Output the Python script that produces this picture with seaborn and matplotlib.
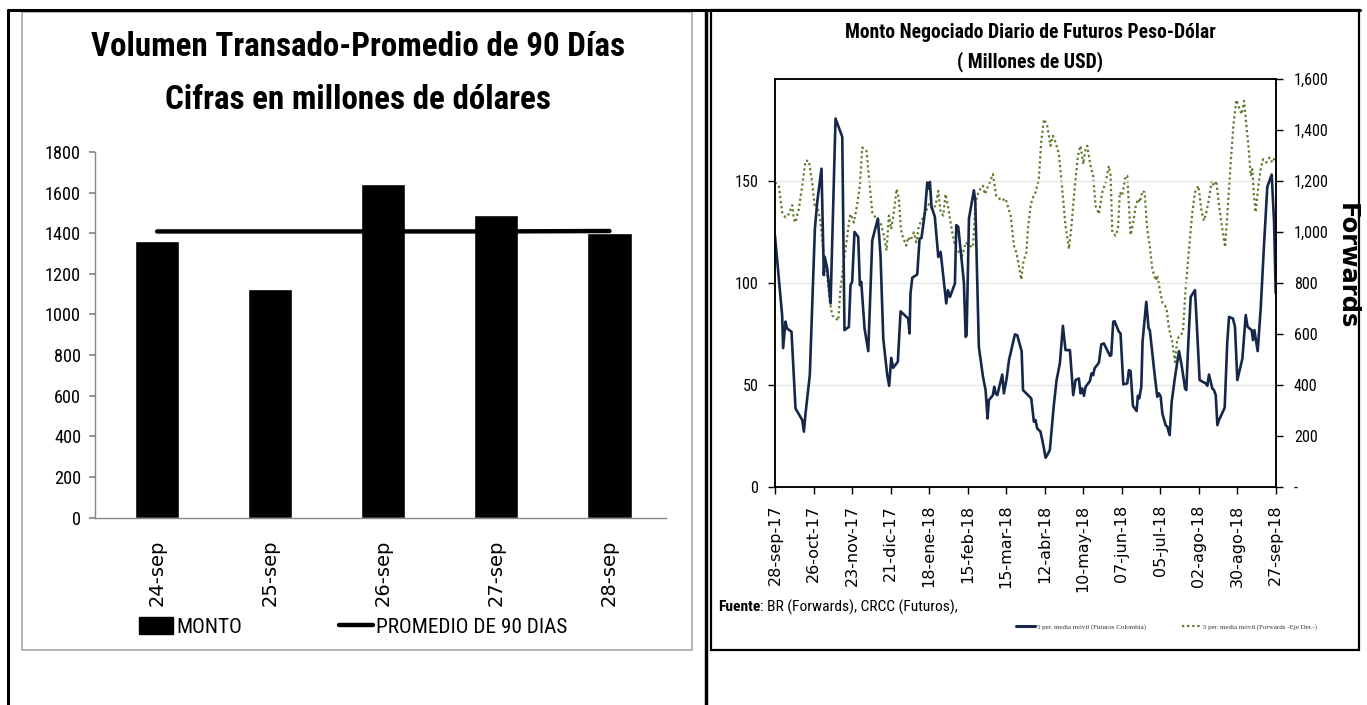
import numpy as np
import pandas as pd
import matplotlib
matplotlib.use("Agg")
import matplotlib.pyplot as plt
from matplotlib import font_manager
from matplotlib.font_manager import FontProperties
from matplotlib.lines import Line2D
from matplotlib.patches import Rectangle, Patch
import matplotlib.ticker as mticker
import seaborn as sns

# ---------------- data: left chart ----------------
categories = ["24-sep", "25-sep", "26-sep", "27-sep", "28-sep"]
monto = [1362, 1127, 1641, 1491, 1403]
promedio = [1409, 1409, 1409, 1409, 1411]
left_yticks = [0, 200, 400, 600, 800, 1000, 1200, 1400, 1600, 1800]

# ---------------- data: right chart ----------------
start_date = "2017-09-28"
fut_day = [0, 5.2, 5.9, 7.6, 8.8, 12, 14.9, 19.8, 21, 22.2, 25.3, 29, 30.7, 33.8, 35.5, 36.2, 38, 40.4,
           44, 48.9, 50.5, 53.7, 54.9, 56.1, 57.8, 60.5, 61.7, 62.7, 65.1, 67.8, 70.7, 74.8, 76.7, 78.7,
           81.6, 83, 84.5, 85.9, 89.3, 91.3, 96.8, 97.8, 98.5, 99.8, 103.4, 105.1, 106.5, 109, 110.7,
           111.9, 112.6, 113.8, 116.2, 118.7, 120.4, 124.5, 125.7, 127.2, 130.8, 131.8, 133.2, 137.3,
           138.6, 139.3, 141, 144.6, 145.6, 148.2, 151.2, 153.1, 154.5, 155.5, 158.4, 159.4, 160.4,
           161.6, 165.2, 166.4, 168.4, 170.1, 174.4, 176.1, 179.3, 180.3, 186.3, 188.2, 189.4, 190.6,
           193, 194.3, 195.5, 196.7, 197.9, 199.8, 202.7, 204.7, 207.1, 209.3, 211.2, 214.4, 216.8,
           218.5, 220.9, 222.1, 223.3, 224.6, 225.8, 228.9, 230.1, 231.3, 232.3, 235.5, 237.2, 239.1,
           243.5, 244.4, 245.9, 246.9, 250, 251.2, 253.2, 256.1, 257.3, 258.5, 260.2, 262.9, 263.8,
           264.8, 266.3, 267.2, 269.9, 271.6, 272.5, 275.5, 277.9, 279.1, 280.4, 281.6, 284, 285.2,
           286.9, 288.4, 290.8, 293.7, 295.6, 298.1, 299, 300.5, 302.2, 305.3, 306.3, 308.7, 313.1,
           314.3, 315.5, 317.9, 319.1, 320.4, 321.6, 322.8, 326.9, 328.8, 330.1, 332.9, 334.4, 336.1,
           339.8, 342.2, 343.6, 346.5, 347.5, 348.5, 350.9, 353.1, 355.5, 357.9, 361.1, 362.8, 364]
fut_val = [123, 84, 68, 81, 77.6, 76, 38.4, 32.7, 27, 36, 54.7, 126.6, 139.7, 156, 103.8, 112.7, 107, 89.9,
           180.6, 171.6, 76.8, 78.4, 98.9, 100.5, 125, 122.5, 98.9, 100.5, 77.6, 66.5, 120.9, 131.5, 113.6, 72.7,
           54.7, 49.5, 63.2, 58.3, 61.3, 86, 82.5, 75.2, 94.8, 102.5, 104.1, 121.7, 122, 134.8, 149.2,
           146.2, 149.5, 137.3, 132.4, 112.7, 115.2, 89.9, 96.4, 93.1, 99.7, 128.3, 127.5, 100.5,
           73.5, 74.3, 131.5, 145.4, 140, 68.6, 53.9, 47.4, 33.5, 42.5, 44.9, 49, 45.8,
           44.9, 55, 45.8, 53.1, 62.1, 74.7, 74.3, 66.5, 47.4, 43.3, 31.9, 32.7, 28.6,
           27, 22.9, 18.8, 14.2, 15.5, 18, 40, 52.3, 60.5, 78.9, 67, 67, 44.9,
           52.3, 53.1, 45.8, 48.2, 44.6, 49, 51.8, 55.6, 54.7, 58, 60.9, 69.8, 70.3,
           64.2, 64.5, 80.9, 81.2, 76, 75.2, 50.2, 50.7, 57.2, 56.7, 39.7, 37.1, 44.6,
           43.3, 49, 71.1, 90.7, 77.6, 76.8, 58, 44.1, 45.8, 44.1, 35.9, 30.2, 29.4,
           25.3, 41.7, 53.9, 66.5, 59.6, 48.2, 47.4, 71.1, 93.1, 96.4, 84.2, 52.3, 50.7,
           49.5, 55, 48.2, 47.4, 44.9, 30.2, 32.7, 38.7, 71.1, 83.3, 82.5, 78.4, 52.3,
           62.9, 84.2, 78.4, 76.8, 71.9, 76.8, 66.5, 87.4, 118.5, 147.1, 153.1, 129.9, 95]

fwd_day = [0, 2.8, 5.2, 7.6, 10, 12.5, 13.7, 14.9, 17.3, 19.8, 22.2, 24.6, 27, 29, 30.7, 33.1, 35.5, 38,
           39.9, 41.6, 44, 46, 47.6, 49.6, 52, 53.7, 54.9, 57.3, 59.8, 61.7, 63.4, 66.5, 68.2, 70.7,
           73.8, 76.7, 79.2, 81.1, 82.8, 84.5, 86.4, 88.4, 90.1, 91.5, 93, 95.4, 96.8, 98.5, 101, 102.7,
           104.6, 107, 109.5, 111.9, 114.3, 116.7, 118.7, 120.4, 122.3, 124, 125.9, 128.4, 130.8, 133.7,
           136.1, 138.6, 141, 143.9, 145.8, 148.2, 151.2, 152.6, 155.5, 158.4, 160.8, 164.7, 167.6,
           171.3, 173.7, 175.4, 177.3, 179, 180.5, 182.7, 184.1, 185.8, 187, 189.4, 191.8, 193.5,
           195.5, 197.9, 200.3, 202, 204, 206.4, 208.8, 211.2, 213.7, 215.3, 217.8, 220.2, 222.1,
           224.1, 225.8, 227, 229.4, 231.3, 233, 235.5, 237.9, 240.3, 242.7, 244, 245.2, 247.6,
           249.3, 250.7, 252.4, 254.9, 256.1, 258.5, 260.4, 262.1, 263.8, 265.3, 267, 268.7, 270.6,
           272.4, 274.3, 276.7, 277.9, 279.6, 281.6, 283.5, 284.7, 286.4, 288.8, 290.8, 292.5, 294.9,
           296.6, 298.5, 301, 303.4, 305.3, 307.8, 310.2, 311.9, 313.6, 315.5, 317.5, 319.1, 320.8,
           322.8, 325.2, 327.2, 328.8, 331.3, 333.2, 335.4, 337.8, 339.3, 341, 342.7, 344.6, 345.8,
           347, 348.2, 349.4, 351.4, 353.1, 354.8, 357.2, 359.6, 361.6, 364]
fwd_val = [1194, 1181, 1077, 1057, 1070, 1105, 1050, 1037, 1090, 1181, 1279, 1279, 1194, 1096, 1103, 1037, 907, 829,
           724, 672, 662, 652, 776, 868, 959, 1037, 1070, 1037, 1109, 1181, 1331, 1318, 1220, 1077,
           1050, 1037, 985, 927, 1064, 1011, 1077, 1168, 1130, 1011, 979, 946, 979, 966, 998, 959,
           1024, 1050, 1077, 1109, 1090, 1103, 1161, 1077, 1064, 1148, 1096, 1011, 946, 920,
           907, 959, 946, 940, 1116, 1161, 1181, 1148, 1188, 1227, 1142, 1122, 1131,
           1064, 946, 920, 868, 813, 880, 920, 1024, 1100, 1129, 1155, 1207, 1351,
           1442, 1416, 1338, 1377, 1351, 1305, 1168, 1024, 933, 1011, 1168, 1298, 1338,
           1266, 1325, 1338, 1259, 1220, 1103, 1070, 1155, 1194, 1259, 1220, 998, 985,
           1011, 1155, 1142, 1220, 1220, 988, 1037, 1096, 1129, 1116, 1161, 1155, 1011,
           946, 855, 809, 829, 776, 724, 711, 698, 620, 568, 489, 581, 594,
           607, 776, 933, 1077, 1155, 1181, 1077, 1044, 1077, 1129, 1201, 1181, 1201,
           1103, 1011, 940, 1064, 1272, 1416, 1518, 1481, 1462, 1514, 1416, 1311, 1220,
           1246, 1142, 1077, 1181, 1246, 1285, 1272, 1292, 1272, 1298]

right_xtick_labels = ["28-sep-17", "26-oct-17", "23-nov-17", "21-dic-17", "18-ene-18", "15-feb-18",
                      "15-mar-18", "12-abr-18", "10-may-18", "07-jun-18", "05-jul-18", "02-ago-18",
                      "30-ago-18", "27-sep-18"]
left_axis_ticks = [0, 50, 100, 150]
right_axis_ticks = [0, 200, 400, 600, 800, 1000, 1200, 1400, 1600]

# ---------------- fonts ----------------
sns.set_theme(style="white")
plt.rcParams["font.family"] = ["DejaVu Sans"]
for k in ["text.color", "axes.labelcolor", "xtick.color", "ytick.color"]:
    plt.rcParams[k] = "black"
entries = font_manager.fontManager.ttflist
names = {f.name for f in entries}


def pick_narrow():
    for fam in ["Liberation Sans Narrow", "Roboto Condensed", "Open Sans Condensed", "Noto Sans Condensed",
                "Arial Narrow"]:
        if fam in names:
            return fam, "normal"
    for fam in ["Noto Sans", "Open Sans", "Roboto", "Inter"]:
        for f in entries:
            if f.name == fam and ("ondensed" in f.fname or "arrow" in f.fname):
                return fam, "condensed"
    return "DejaVu Sans", "condensed"


NARROW, NSTRETCH = pick_narrow()
SERIF = "Liberation Serif" if "Liberation Serif" in names else "DejaVu Serif"

W, H = 1367, 705
fig = plt.figure(figsize=(W / 100, H / 100), dpi=100)
fig.patch.set_facecolor("white")
renderer = fig.canvas.get_renderer()


def fx(x):
    return x / W


def fy(y):
    return 1 - y / H


def nprops(size, weight="normal"):
    return FontProperties(family=NARROW, size=size, weight=weight, stretch=NSTRETCH)


def width_px(s, fp):
    t = fig.text(0, 0, s, fontproperties=fp)
    w = t.get_window_extent(renderer).width
    t.remove()
    return w


def fit_size(s, target, family, weight="normal", stretch="normal", base=20.0):
    fp = FontProperties(family=family, size=base, weight=weight, stretch=stretch)
    return base * target / width_px(s, fp)


# ---------------- frames ----------------
fig.add_artist(Line2D([fx(8), fx(1360)], [fy(10), fy(10)], color="black", lw=2.2))
fig.add_artist(Line2D([fx(8), fx(8)], [fy(10), fy(705)], color="black", lw=2.2))
fig.add_artist(Line2D([fx(706), fx(706)], [fy(10), fy(705)], color="black", lw=2.5))
fig.add_artist(Rectangle((fx(710.5), fy(650)), fx(1359) - fx(710.5), fy(10) - fy(650),
                         fill=False, edgecolor="black", lw=1.6))
fig.add_artist(Rectangle((fx(22), fy(650)), fx(691.5) - fx(22), fy(12) - fy(650),
                         fill=False, edgecolor="#A6A6A6", lw=1.2))

# ---------------- left chart ----------------
axL = fig.add_axes([fx(95), fy(517.6), fx(666) - fx(95), fy(152) - fy(517.6)])
dfL = pd.DataFrame({"fecha": categories, "monto": monto, "promedio": promedio})
sns.barplot(data=dfL, x="fecha", y="monto", color="black", width=0.39, saturation=1, ax=axL)
sns.lineplot(x=np.arange(len(categories)), y=dfL["promedio"], color="black", lw=3.2, ax=axL)
axL.set_xlim(-0.55, 4.5)
axL.set_ylim(0, 1800)
axL.set_yticks(left_yticks)
axL.set_xlabel("")
axL.set_ylabel("")
for s in ["top", "right"]:
    axL.spines[s].set_visible(False)
for s in ["left", "bottom"]:
    axL.spines[s].set_color("#868686")
    axL.spines[s].set_linewidth(1.0)
axL.tick_params(axis="y", length=4, color="#868686", labelcolor="black", pad=6, left=True)
axL.tick_params(axis="x", length=0, pad=16, labelcolor="black")
ytick_size_L = fit_size("1800", 36, NARROW, stretch=NSTRETCH)
for t in axL.get_yticklabels():
    t.set_fontproperties(nprops(ytick_size_L))
for t in axL.get_xticklabels():
    t.set_fontfamily("DejaVu Sans")
    t.set_fontsize(14)
    t.set_rotation(90)

legL_size = fit_size("PROMEDIO DE 90 DIAS", 192, NARROW, stretch=NSTRETCH)
emL = legL_size * 100 / 72
hL = [Patch(facecolor="black", edgecolor="black"), Line2D([0], [0], color="black", lw=3.2)]
fig.legend(hL, ["MONTO", "PROMEDIO DE 90 DIAS"], loc="center left",
           bbox_to_anchor=(fx(139), fy(627)), ncol=2, frameon=False, prop=nprops(legL_size),
           handlelength=34 / emL, handleheight=18 / emL, handletextpad=3 / emL,
           columnspacing=(340 - 243) / emL, borderpad=0, borderaxespad=0)

titleL_size = 1.04 * fit_size("Volumen Transado-Promedio de 90 Días", 512, NARROW, "bold", NSTRETCH)
fig.text(fx(358), fy(47.5), "Volumen Transado-Promedio de 90 Días", ha="center", va="center",
         fontproperties=nprops(titleL_size, "bold"), color="black")
fig.text(fx(358), fy(99.6), "Cifras en millones de dólares", ha="center", va="center",
         fontproperties=nprops(titleL_size, "bold"), color="black")

# ---------------- right chart ----------------
navy = "#16284A"
green = "#5E7A2B"
t0 = pd.Timestamp(start_date)
fut_dates = t0 + pd.to_timedelta(fut_day, unit="D")
fwd_dates = t0 + pd.to_timedelta(fwd_day, unit="D")

axR = fig.add_axes([fx(775), fy(486.7), fx(1275.7) - fx(775), fy(79) - fy(486.7)])
axR2 = axR.twinx()
sns.lineplot(x=fwd_dates, y=fwd_val, ax=axR2, color=green, lw=1.6, estimator=None, sort=False,
             linestyle=(0, (1, 1.3)))
sns.lineplot(x=fut_dates, y=fut_val, ax=axR, color=navy, lw=1.9, estimator=None, sort=False)
axR.set_zorder(axR2.get_zorder() + 1)
axR.patch.set_visible(False)

tick_dates = pd.date_range(start_date, periods=len(right_xtick_labels), freq="28D")
axR.set_xlim(tick_dates[0], tick_dates[-1])
axR.set_xticks(tick_dates)
axR.set_xticklabels(right_xtick_labels, rotation=90, fontsize=11.5, family="DejaVu Sans")
axR.set_ylim(0, 200)
axR.set_yticks(left_axis_ticks)
axR2.set_ylim(0, 1600)
axR2.set_yticks(right_axis_ticks)
axR2.yaxis.set_major_formatter(mticker.FuncFormatter(lambda v, p: "-" if v == 0 else f"{v:,.0f}"))
axR.grid(axis="y", color="#E6E6E6", lw=1.0)
axR.set_axisbelow(True)
axR2.grid(False)
axR.set_xlabel("")
axR.set_ylabel("")
axR2.set_ylabel("")
for a in (axR, axR2):
    for s in a.spines.values():
        s.set_color("black")
        s.set_linewidth(1.1)
axR.tick_params(axis="x", length=5, width=1, color="black", labelcolor="black", pad=8, bottom=True)
axR.tick_params(axis="y", length=5, width=1, color="black", labelcolor="black", pad=7, left=True)
axR2.tick_params(axis="y", length=5, width=1, color="black", labelcolor="black", pad=8, right=True)
ytick_size_R = fit_size("1,600", 35, NARROW, stretch=NSTRETCH)
for t in axR.get_yticklabels() + axR2.get_yticklabels():
    t.set_fontproperties(nprops(ytick_size_R))

fw_fp = FontProperties(family="DejaVu Sans", weight="heavy", size=20)
fw_size = 20 * 127 / width_px("Forwards", fw_fp)
fig.text(fx(1347), fy(266), "Forwards", rotation=270, ha="center", va="center",
         family="DejaVu Sans", fontweight="heavy", fontsize=fw_size, color="black")
titleR_size = fit_size("Monto Negociado Diario de Futuros Peso-Dólar", 371, NARROW, "bold", NSTRETCH)
fig.text(fx(1030), fy(32), "Monto Negociado Diario de Futuros Peso-Dólar", ha="center", va="center",
         fontproperties=nprops(titleR_size, "bold"), color="black")
fig.text(fx(1030), fy(62), "( Millones de USD)", ha="center", va="center",
         fontproperties=nprops(titleR_size, "bold"), color="black")

# Fuente text
fu_size = 20.0 * 240 / (width_px("Fuente", nprops(20, "bold")) +
                        width_px(": BR (Forwards), CRCC (Futuros),", nprops(20)))
t1 = fig.text(fx(718), fy(607), "Fuente", ha="left", va="center",
              fontproperties=nprops(fu_size, "bold"), color="black")
bb = t1.get_window_extent(renderer)
fig.text(bb.x1 / W, fy(607), ": BR (Forwards), CRCC (Futuros),", ha="left", va="center",
         fontproperties=nprops(fu_size), color="black")

legR_size = fit_size("5 per. media móvil (Futuros Colombia)", 111, SERIF)
emR = legR_size * 100 / 72
hR = [Line2D([0], [0], color=navy, lw=2.2),
      Line2D([0], [0], color=green, lw=1.6, linestyle=(0, (1, 1.3)))]
legR = fig.legend(hR, ["5 per. media móvil (Futuros Colombia)", "5 per. media móvil (Forwards -Eje Der.-)"],
                  loc="center left", bbox_to_anchor=(fx(1016), fy(627)), ncol=2, frameon=False,
                  prop=FontProperties(family=SERIF, size=legR_size),
                  handlelength=19 / emR, handletextpad=2 / emR, columnspacing=(1183 - 1147) / emR,
                  borderpad=0, borderaxespad=0)
for t in legR.get_texts():
    t.set_color("#333333")

fig.savefig("out.png", dpi=100, facecolor="white")
